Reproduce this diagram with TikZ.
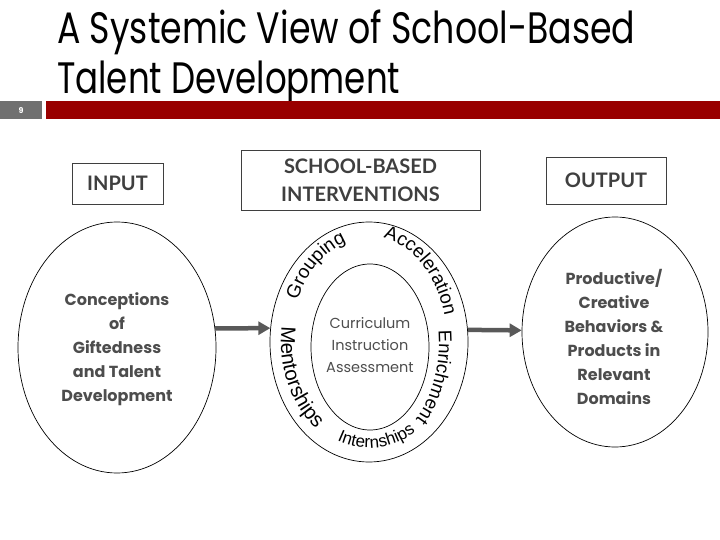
\documentclass[tikz,border=0pt]{standalone}
\usepackage{fontspec}
\usepackage{graphicx}
\usetikzlibrary{shapes.geometric,arrows.meta,decorations.text}
\newfontfamily\titlefont{Poppins}
\newfontfamily\boxfont{Lato}
\newfontfamily\bodyfont{Poppins}
\newfontfamily\curvefont{Liberation Sans}
\definecolor{barred}{HTML}{990000}
\definecolor{numgray}{HTML}{707070}
\definecolor{labelgray}{HTML}{3F3F3F}
\definecolor{textgray}{HTML}{4D4D4D}
\definecolor{arrowgray}{HTML}{595959}
\begin{document}
\begin{tikzpicture}[x=1pt,y=-1pt,
  labelbox/.style={draw=labelgray, line width=0.9pt, inner sep=0pt, text=labelgray,
    font=\boxfont\bfseries\fontsize{20}{28}\selectfont, align=center},
  oval/.style={draw=black, ellipse, line width=0.7pt, inner sep=0pt},
  ovaltext/.style={text=textgray, font=\bodyfont\bfseries\fontsize{16}{24}\selectfont, align=center, inner sep=0pt},
  flow/.style={draw=arrowgray, line width=4.5pt, -{Triangle[length=12pt,width=13pt]}},
  curve/.style={decorate, decoration={text along path, text align=center, text color=black}},
]
\useasboundingbox (0,0) rectangle (720,540);
% title
\node[anchor=base west, inner sep=0pt] (t1) at (57,44)
  {\resizebox{578pt}{\height}{\titlefont\fontsize{44}{44}\selectfont A Systemic View of School-Based}};
\node[anchor=base west, inner sep=0pt] (t2) at (57,94)
  {\resizebox{343pt}{\height}{\titlefont\fontsize{44}{44}\selectfont Talent Development}};
% slide number and bar
\node[fill=numgray, minimum width=42pt, minimum height=18pt, inner sep=0pt, anchor=north west,
  text=white, font=\bodyfont\bfseries\fontsize{8}{8}\selectfont] (num) at (0,101) {9};
\node[fill=barred, minimum width=674pt, minimum height=18pt, inner sep=0pt, anchor=north west] (bar) at (46,101) {};
% header boxes
\node[labelbox, minimum width=91pt, minimum height=41pt] (input) at (117.5,183.5) {INPUT};
\node[labelbox, minimum width=239pt, minimum height=60pt] (school) at (360.5,180) {SCHOOL-BASED\\INTERVENTIONS};
\node[labelbox, minimum width=120pt, minimum height=47pt] (output) at (606,180.5) {OUTPUT};
% ellipses
\node[oval, minimum width=198pt, minimum height=251pt] (left) at (117,347.5) {};
\node[ovaltext] (lefttext) at (117,349) {Conceptions\\of\\Giftedness\\and Talent\\Development};
\node[oval, minimum width=198pt, minimum height=240pt] (midout) at (369,342) {};
\node[oval, minimum width=118pt, minimum height=166pt] (midin) at (370,347) {};
\node[text=textgray, font=\bodyfont\fontsize{14.5}{22}\selectfont, align=center, inner sep=0pt] (core) at (370,345)
  {Curriculum\\Instruction\\Assessment};
\node[oval, minimum width=186pt, minimum height=230pt] (right) at (615,332) {};
\node[ovaltext] (righttext) at (614,337) {Productive/\\Creative\\Behaviors \&\\Products in\\Relevant\\Domains};
% arrows
\draw[flow] (left.11) -- (midout.172);
\draw[flow] (midout.7) -- (right.179);
% curved labels
\begin{scope}[shift={(369,342)}, y=1pt]
  \path[curve, decoration={text={|\curvefont\fontsize{19}{19}\selectfont|Grouping}}]
    (180:78pt and 104pt) arc[start angle=180, end angle=76, x radius=78pt, y radius=104pt];
  \path[curve, decoration={text={|\curvefont\fontsize{19}{19}\selectfont|Acceleration}}]
    (104:78pt and 106pt) arc[start angle=104, end angle=-4, x radius=78pt, y radius=106pt];
  \path[curve, decoration={text={|\curvefont\fontsize{18.5}{18.5}\selectfont|Enrichment}}]
    (28:70pt and 104pt) arc[start angle=28, end angle=-76, x radius=70pt, y radius=104pt];
  \path[curve, decoration={text={|\curvefont\fontsize{20.5}{20.5}\selectfont|Mentorships}}]
    (150:88pt and 108pt) arc[start angle=150, end angle=258, x radius=88pt, y radius=108pt];
  \path[curve, decoration={text={|\curvefont\fontsize{17}{17}\selectfont|Internships}}]
    (225:88pt and 106pt) arc[start angle=225, end angle=325, x radius=88pt, y radius=106pt];
\end{scope}
\end{tikzpicture}
\end{document}
